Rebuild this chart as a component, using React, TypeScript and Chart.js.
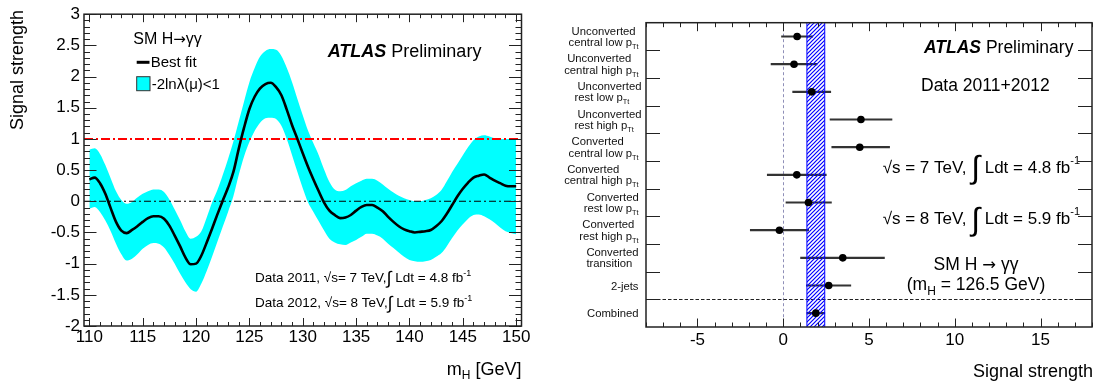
import React, { useEffect, useRef } from "react";
import { Chart, registerables } from "chart.js";

Chart.register(...registerables);

const FONT = "'Liberation Sans', Arial, Helvetica, sans-serif";
const ARROW_FONT = "'DejaVu Sans', 'Liberation Sans', sans-serif";

// ---------------- Left panel: signal strength vs m_H ----------------
const massPoints = [
  110, 110.5, 111, 111.5, 112, 112.5, 113, 113.5, 114, 114.5, 115, 115.5, 116, 116.5, 117, 117.5,
  118, 118.5, 119, 119.5, 120, 120.5, 121, 121.5, 122, 122.5, 123, 123.5, 124, 124.5, 125, 125.5,
  126, 126.5, 127, 127.5, 128, 128.5, 129, 129.5, 130, 130.5, 131, 131.5, 132, 132.5, 133, 133.5,
  134, 134.5, 135, 135.5, 136, 136.5, 137, 137.5, 138, 138.5, 139, 139.5, 140, 140.5, 141, 141.5,
  142, 142.5, 143, 143.5, 144, 144.5, 145, 145.5, 146, 146.5, 147, 147.5, 148, 148.5, 149, 149.5, 150,
];
const bestFit = [
  0.35, 0.38, 0.29, 0.12, -0.11, -0.33, -0.47, -0.51, -0.46, -0.4, -0.33, -0.27, -0.24, -0.24, -0.28, -0.39,
  -0.55, -0.72, -0.9, -1.01, -1.0, -0.87, -0.66, -0.44, -0.21, 0.01, 0.22, 0.47, 0.84, 1.18, 1.48, 1.68,
  1.81, 1.88, 1.9, 1.83, 1.7, 1.47, 1.22, 1.0, 0.77, 0.55, 0.35, 0.16, -0.02, -0.15, -0.22, -0.27,
  -0.26, -0.22, -0.15, -0.09, -0.06, -0.06, -0.1, -0.16, -0.25, -0.33, -0.4, -0.45, -0.48, -0.5, -0.49, -0.48,
  -0.46, -0.4, -0.32, -0.2, -0.06, 0.08, 0.2, 0.3, 0.38, 0.41, 0.43, 0.38, 0.33, 0.29, 0.25, 0.24, 0.24,
];
const bandUpper = [
  0.83, 0.85, 0.76, 0.58, 0.37, 0.16, 0.02, -0.04, -0.01, 0.06, 0.12, 0.16, 0.19, 0.19, 0.15, 0.03,
  -0.13, -0.3, -0.48, -0.6, -0.57, -0.48, -0.26, -0.02, 0.18, 0.42, 0.68, 0.96, 1.28, 1.6, 1.91, 2.14,
  2.32, 2.41, 2.44, 2.43, 2.33, 2.14, 1.91, 1.64, 1.38, 1.13, 0.93, 0.74, 0.51, 0.31, 0.19, 0.16,
  0.18, 0.24, 0.29, 0.33, 0.36, 0.36, 0.33, 0.27, 0.2, 0.14, 0.09, 0.05, 0.02, 0.0, 0.0, 0.02,
  0.05, 0.1, 0.18, 0.32, 0.47, 0.6, 0.74, 0.87, 0.98, 1.04, 1.06, 1.04, 1.01, 1.0, 1.0, 1.0, 1.0,
];
const bandLower = [
  -0.12, -0.09, -0.17, -0.31, -0.48, -0.68, -0.85, -0.95, -0.92, -0.85, -0.76, -0.7, -0.67, -0.68, -0.74, -0.86,
  -1.0, -1.16, -1.3, -1.41, -1.45, -1.32, -1.12, -0.89, -0.65, -0.41, -0.17, 0.08, 0.42, 0.72, 0.95, 1.13,
  1.26, 1.33, 1.34, 1.32, 1.21, 1.0, 0.74, 0.47, 0.21, -0.02, -0.17, -0.32, -0.47, -0.6, -0.66, -0.69,
  -0.7, -0.66, -0.62, -0.57, -0.52, -0.52, -0.55, -0.6, -0.68, -0.75, -0.82, -0.89, -0.94, -0.96, -0.97, -0.96,
  -0.94, -0.89, -0.83, -0.72, -0.59, -0.47, -0.37, -0.28, -0.22, -0.21, -0.24, -0.29, -0.35, -0.42, -0.48, -0.51, -0.53,
];
const massRange = [109.5, 150.5];
const massTicks = [110, 115, 120, 125, 130, 135, 140, 145, 150];
const strengthRange = [-2, 3];
const strengthTicks = [-2, -1.5, -1, -0.5, 0, 0.5, 1, 1.5, 2, 2.5, 3];
const smExpectation = 1;
const backgroundOnly = 0;

// ---------------- Right panel: per-category signal strength ----------------
const categoryLabelLines = [
  ["Unconverted", "central low p_Tt"],
  ["Unconverted", "central high p_Tt"],
  ["Unconverted", "rest low p_Tt"],
  ["Unconverted", "rest high p_Tt"],
  ["Converted", "central low p_Tt"],
  ["Converted", "central high p_Tt"],
  ["Converted", "rest low p_Tt"],
  ["Converted", "rest high p_Tt"],
  ["Converted", "transition"],
  ["2-jets"],
  ["Combined"],
];
const categoryNames = categoryLabelLines.map((l) => l.join(" "));
const categoryMu = [0.81, 0.63, 1.66, 4.53, 4.46, 0.79, 1.47, -0.22, 3.47, 2.65, 1.9];
const categoryLow = [-0.1, -0.71, 0.55, 2.73, 2.83, -0.93, 0.16, -1.92, 1.01, 1.35, 1.38];
const categoryHigh = [1.72, 1.97, 2.77, 6.34, 6.2, 2.51, 2.81, 1.48, 5.9, 3.94, 2.42];
const muRange = [-8, 18];
const muTicks = [-5, 0, 5, 10, 15];

// ---------------- helpers ----------------
type Seg = { t: string; s: number; dy?: number; w?: string; i?: boolean; f?: string };
const fnt = (g: Seg) => `${g.i ? "italic " : ""}${g.w || "normal"} ${g.s}px ${g.f || FONT}`;

function richWidth(ctx: CanvasRenderingContext2D, segs: Seg[]) {
  let w = 0;
  for (const g of segs) {
    ctx.font = fnt(g);
    w += ctx.measureText(g.t).width;
  }
  return w;
}

function drawRich(ctx: CanvasRenderingContext2D, segs: Seg[], x: number, base: number, align: string) {
  const w = richWidth(ctx, segs);
  let cx = align === "left" ? x : align === "right" ? x - w : x - w / 2;
  ctx.textAlign = "left";
  ctx.textBaseline = "alphabetic";
  for (const g of segs) {
    ctx.font = fnt(g);
    ctx.fillText(g.t, cx, base + (g.dy || 0));
    cx += ctx.measureText(g.t).width;
  }
  return w;
}

function makeHatch(ctx: CanvasRenderingContext2D) {
  const c = document.createElement("canvas");
  c.width = 4;
  c.height = 4;
  const g = c.getContext("2d")!;
  g.strokeStyle = "#0000ff";
  g.lineWidth = 1.2;
  g.beginPath();
  g.moveTo(0, 4);
  g.lineTo(4, 0);
  g.moveTo(-1, 1);
  g.lineTo(1, -1);
  g.moveTo(3, 5);
  g.lineTo(5, 3);
  g.stroke();
  return ctx.createPattern(c, "repeat")!;
}

function labelSegs(line: string, size: number): Seg[] {
  const k = line.indexOf("_");
  if (k < 0) return [{ t: line, s: size }];
  return [
    { t: line.slice(0, k), s: size },
    { t: line.slice(k + 1), s: size * 0.65, dy: 3 },
  ];
}

// ---------------- plugins ----------------
const leftDecor = {
  id: "leftDecor",
  afterDraw(chart: any) {
    const { ctx, chartArea: a, scales } = chart;
    const x = scales.x;
    const y = scales.y;
    ctx.save();
    ctx.strokeStyle = "#222";
    ctx.lineWidth = 1;
    ctx.beginPath();
    for (let m = Math.ceil(x.min); m <= x.max; m += 1) {
      const px = Math.round(x.getPixelForValue(m)) + 0.5;
      const len = massTicks.includes(m) ? 8 : 4;
      ctx.moveTo(px, a.bottom);
      ctx.lineTo(px, a.bottom - len);
      ctx.moveTo(px, a.top);
      ctx.lineTo(px, a.top + len);
    }
    for (let k = Math.round(y.min * 10); k <= Math.round(y.max * 10); k++) {
      const py = Math.round(y.getPixelForValue(k / 10)) + 0.5;
      const len = k % 5 === 0 ? 12.5 : 6;
      ctx.moveTo(a.left, py);
      ctx.lineTo(a.left + len, py);
      ctx.moveTo(a.right, py);
      ctx.lineTo(a.right - len, py);
    }
    ctx.stroke();
    ctx.lineWidth = 1.5;
    ctx.strokeRect(a.left, a.top, a.right - a.left, a.bottom - a.top);

    ctx.fillStyle = "#000";
    // legend
    drawRich(
      ctx,
      [
        { t: "SM H", s: 16 },
        { t: "\u2192", s: 15, f: ARROW_FONT },
        { t: "\u03b3\u03b3", s: 16 },
      ],
      133.3,
      44.1,
      "left"
    );
    ctx.strokeStyle = "#000";
    ctx.lineWidth = 3;
    ctx.beginPath();
    ctx.moveTo(136.7, 62.3);
    ctx.lineTo(149.5, 62.3);
    ctx.stroke();
    drawRich(ctx, [{ t: "Best fit", s: 15 }], 150.7, 67.4, "left");
    ctx.fillStyle = "#00ffff";
    ctx.fillRect(136.7, 76.7, 13.3, 14);
    ctx.strokeStyle = "#333";
    ctx.lineWidth = 1;
    ctx.strokeRect(136.7, 76.7, 13.3, 14);
    ctx.fillStyle = "#000";
    drawRich(ctx, [{ t: "-2ln\u03bb(\u03bc)<1", s: 15 }], 151.7, 88.7, "left");

    drawRich(
      ctx,
      [
        { t: "ATLAS", s: 18, w: "bold", i: true },
        { t: " Preliminary", s: 18 },
      ],
      327.7,
      57.2,
      "left"
    );
    const dataLine = (yr: string, e: string, lumi: string, base: number) =>
      drawRich(
        ctx,
        [
          { t: `Data ${yr}, \u221as= ${e} TeV,`, s: 13.5 },
          { t: "\u222b", s: 18, dy: 2 },
          { t: ` Ldt = ${lumi} fb`, s: 13.5 },
          { t: "-1", s: 9, dy: -6 },
        ],
        255,
        base,
        "left"
      );
    dataLine("2011", "7", "4.8", 281.6);
    dataLine("2012", "8", "5.9", 306.6);

    // axis titles
    ctx.save();
    ctx.translate(18, 10);
    ctx.rotate(-Math.PI / 2);
    ctx.font = `18px ${FONT}`;
    ctx.textAlign = "right";
    ctx.textBaseline = "middle";
    ctx.fillText("Signal strength", 0, 0);
    ctx.restore();
    drawRich(
      ctx,
      [
        { t: "m", s: 18 },
        { t: "H", s: 12, dy: 4 },
        { t: " [GeV]", s: 18 },
      ],
      a.right,
      374.5,
      "right"
    );
    ctx.restore();
  },
};

const rightDecor = {
  id: "rightDecor",
  beforeDatasetsDraw(chart: any) {
    const { ctx, chartArea: a, scales } = chart;
    const x = scales.x;
    const y = scales.y;
    ctx.save();
    ctx.lineWidth = 1;
    ctx.strokeStyle = "#8f8fb8";
    ctx.setLineDash([3, 2.5]);
    const x0 = Math.round(x.getPixelForValue(0)) + 0.5;
    ctx.beginPath();
    ctx.moveTo(x0, a.top);
    ctx.lineTo(x0, a.bottom);
    ctx.stroke();
    ctx.strokeStyle = "#222";
    ctx.setLineDash([3.5, 2]);
    const ys = Math.round(y.getPixelForValue(categoryNames.length - 1.5)) + 0.5;
    ctx.beginPath();
    ctx.moveTo(a.left, ys);
    ctx.lineTo(a.right, ys);
    ctx.stroke();
    ctx.restore();
  },
  beforeDatasetDraw(chart: any, args: any) {
    if (args.index !== 0) return;
    const { ctx, chartArea: a, scales } = chart;
    const x = scales.x;
    const ci = categoryNames.length - 1;
    const x1 = x.getPixelForValue(categoryLow[ci]);
    const x2 = x.getPixelForValue(categoryHigh[ci]);
    ctx.save();
    ctx.fillStyle = makeHatch(ctx);
    ctx.fillRect(x1, a.top, x2 - x1, a.bottom - a.top);
    ctx.strokeStyle = "#0000ff";
    ctx.lineWidth = 1;
    ctx.beginPath();
    ctx.moveTo(x1, a.top);
    ctx.lineTo(x1, a.bottom);
    ctx.moveTo(x2, a.top);
    ctx.lineTo(x2, a.bottom);
    ctx.stroke();
    ctx.restore();
  },
  afterDraw(chart: any) {
    const { ctx, chartArea: a, scales } = chart;
    const x = scales.x;
    const y = scales.y;
    ctx.save();
    ctx.strokeStyle = "#222";
    ctx.lineWidth = 1;
    ctx.beginPath();
    for (let v = Math.ceil(x.min); v <= x.max; v += 1) {
      const px = Math.round(x.getPixelForValue(v)) + 0.5;
      const len = muTicks.includes(v) ? 8.5 : 4.5;
      ctx.moveTo(px, a.bottom);
      ctx.lineTo(px, a.bottom - len);
      ctx.moveTo(px, a.top);
      ctx.lineTo(px, a.top + len);
    }
    for (let i = 0; i < categoryNames.length - 1; i++) {
      const py = Math.round(y.getPixelForValue(i + 0.5)) + 0.5;
      ctx.moveTo(a.left, py);
      ctx.lineTo(a.left + 14, py);
      ctx.moveTo(a.right, py);
      ctx.lineTo(a.right - 14, py);
    }
    ctx.stroke();
    ctx.lineWidth = 1.5;
    ctx.strokeRect(a.left, a.top, a.right - a.left, a.bottom - a.top);

    // category labels
    ctx.fillStyle = "#111";
    const fs = 11.3;
    const rightEdge = a.left - 7.5;
    categoryLabelLines.forEach((lines, i) => {
      const c = y.getPixelForValue(i);
      const segsList = lines.map((l) => labelSegs(l, fs));
      const widths = segsList.map((s) => richWidth(ctx, s));
      const blockW = Math.max(...widths);
      const left = rightEdge - blockW;
      if (lines.length === 1) {
        drawRich(ctx, segsList[0], rightEdge, c + 0.36 * fs, "right");
      } else {
        const hasSub = lines[1].includes("_");
        drawRich(ctx, segsList[0], left + (hasSub ? 3 : 0), c - 6 + 0.36 * fs, "left");
        drawRich(ctx, segsList[1], left, c + 5.5 + 0.36 * fs, "left");
      }
    });

    ctx.fillStyle = "#000";
    drawRich(
      ctx,
      [
        { t: "ATLAS", s: 17.5, w: "bold", i: true },
        { t: " Preliminary", s: 17.5 },
      ],
      375,
      52.8,
      "left"
    );
    drawRich(ctx, [{ t: "Data 2011+2012", s: 17.5 }], 372, 91.3, "left");
    const lumiLine = (e: string, lumi: string, base: number) =>
      drawRich(
        ctx,
        [
          { t: `\u221as = ${e} TeV, `, s: 17 },
          { t: "\u222b", s: 32, dy: 5.5 },
          { t: ` Ldt = ${lumi} fb`, s: 17 },
          { t: "-1", s: 11, dy: -9 },
        ],
        531,
        base,
        "right"
      );
    lumiLine("7", "4.8", 172.8);
    lumiLine("8", "5.9", 224.4);
    drawRich(
      ctx,
      [
        { t: "SM H ", s: 17.5 },
        { t: "\u2192", s: 16.5, f: ARROW_FONT },
        { t: " \u03b3\u03b3", s: 17.5 },
      ],
      427,
      269.6,
      "center"
    );
    drawRich(
      ctx,
      [
        { t: "(m", s: 17.5 },
        { t: "H", s: 12, dy: 5 },
        { t: " = 126.5 GeV)", s: 17.5 },
      ],
      427,
      290.3,
      "center"
    );
    drawRich(ctx, [{ t: "Signal strength", s: 18 }], a.right + 1, 376.5, "right");
    ctx.restore();
  },
};

// ---------------- configs ----------------
function leftConfig(): any {
  const pts = (ys: number[]) => massPoints.map((m, i) => ({ x: m, y: ys[i] }));
  const hline = (v: number) => [
    { x: massRange[0], y: v },
    { x: massRange[1], y: v },
  ];
  return {
    type: "line",
    data: {
      datasets: [
        {
          label: "Best fit",
          data: pts(bestFit),
          borderColor: "#000",
          borderWidth: 2.6,
          pointRadius: 0,
          cubicInterpolationMode: "monotone",
          fill: false,
          order: 0,
        },
        {
          label: "SM",
          data: hline(smExpectation),
          borderColor: "#ff0000",
          borderWidth: 2,
          borderDash: [9, 3, 2, 3],
          pointRadius: 0,
          fill: false,
          order: 1,
        },
        {
          label: "Background only",
          data: hline(backgroundOnly),
          borderColor: "#000",
          borderWidth: 1.1,
          borderDash: [7, 3, 2, 3],
          pointRadius: 0,
          fill: false,
          order: 1,
        },
        {
          label: "-2ln\u03bb(\u03bc)<1 upper",
          data: pts(bandUpper),
          borderColor: "rgba(0,0,0,0)",
          borderWidth: 0,
          backgroundColor: "#00ffff",
          fill: "+1",
          pointRadius: 0,
          cubicInterpolationMode: "monotone",
          order: 2,
        },
        {
          label: "-2ln\u03bb(\u03bc)<1 lower",
          data: pts(bandLower),
          borderColor: "rgba(0,0,0,0)",
          borderWidth: 0,
          pointRadius: 0,
          fill: false,
          cubicInterpolationMode: "monotone",
          order: 3,
        },
      ],
    },
    options: {
      animation: false,
      responsive: false,
      devicePixelRatio: 1,
      layout: { padding: { left: 0, right: 27.5, top: 12.7, bottom: 0 } },
      plugins: { legend: { display: false }, tooltip: { enabled: false } },
      scales: {
        x: {
          type: "linear",
          min: massRange[0],
          max: massRange[1],
          grid: { display: false, drawTicks: false },
          border: { display: false },
          afterBuildTicks: (s: any) => {
            s.ticks = massTicks.map((v) => ({ value: v }));
          },
          afterFit: (s: any) => {
            s.height = 59;
          },
          ticks: {
            font: { family: FONT, size: 17 },
            color: "#000",
            padding: 1,
            maxRotation: 0,
            autoSkip: false,
            callback: (v: any) => String(v),
          },
        },
        y: {
          type: "linear",
          min: strengthRange[0],
          max: strengthRange[1],
          grid: { display: false, drawTicks: false },
          border: { display: false },
          afterBuildTicks: (s: any) => {
            s.ticks = strengthTicks.map((v) => ({ value: v }));
          },
          afterFit: (s: any) => {
            s.width = 84;
          },
          ticks: {
            font: { family: FONT, size: 17 },
            color: "#000",
            padding: 4,
            autoSkip: false,
            callback: (v: any) => String(v),
          },
        },
      },
    },
    plugins: [leftDecor],
  };
}

function rightConfig(): any {
  return {
    type: "bar",
    data: {
      labels: categoryNames,
      datasets: [
        {
          type: "scatter",
          label: "Signal strength",
          data: categoryMu.map((m, i) => ({ x: m, y: categoryNames[i] })),
          pointRadius: 3.8,
          pointBackgroundColor: "#000",
          pointBorderColor: "#000",
          pointBorderWidth: 0,
          order: 0,
        },
        {
          type: "bar",
          label: "Uncertainty",
          data: categoryLow.map((lo, i) => [lo, categoryHigh[i]]),
          backgroundColor: "#333",
          borderWidth: 0,
          barThickness: 1.5,
          order: 1,
        },
      ],
    },
    options: {
      indexAxis: "y",
      animation: false,
      responsive: false,
      devicePixelRatio: 1,
      layout: { padding: { left: 0, right: 6, top: 22.7, bottom: 0 } },
      plugins: { legend: { display: false }, tooltip: { enabled: false } },
      scales: {
        x: {
          type: "linear",
          position: "bottom",
          min: muRange[0],
          max: muRange[1],
          grid: { display: false, drawTicks: false },
          border: { display: false },
          afterBuildTicks: (s: any) => {
            s.ticks = muTicks.map((v) => ({ value: v }));
          },
          afterFit: (s: any) => {
            s.height = 58;
          },
          ticks: {
            font: { family: FONT, size: 17 },
            color: "#000",
            padding: 3,
            maxRotation: 0,
            autoSkip: false,
            callback: (v: any) => String(v),
          },
        },
        y: {
          type: "category",
          position: "left",
          offset: true,
          grid: { display: false, drawTicks: false },
          border: { display: false },
          ticks: { display: false },
          afterFit: (s: any) => {
            s.width = 97;
          },
        },
      },
    },
    plugins: [rightDecor],
  };
}

export default function App() {
  const leftRef = useRef<HTMLCanvasElement>(null);
  const rightRef = useRef<HTMLCanvasElement>(null);
  useEffect(() => {
    const l = new Chart(leftRef.current!, leftConfig());
    const r = new Chart(rightRef.current!, rightConfig());
    return () => {
      l.destroy();
      r.destroy();
    };
  }, []);
  return (
    <div style={{ position: "absolute", left: 0, top: 0, width: 1098, height: 385, background: "#fff" }}>
      <canvas
        ref={leftRef}
        width={549}
        height={385}
        style={{ position: "absolute", left: 0, top: 0, width: 549, height: 385 }}
      />
      <canvas
        ref={rightRef}
        width={549}
        height={385}
        style={{ position: "absolute", left: 549, top: 0, width: 549, height: 385 }}
      />
    </div>
  );
}
